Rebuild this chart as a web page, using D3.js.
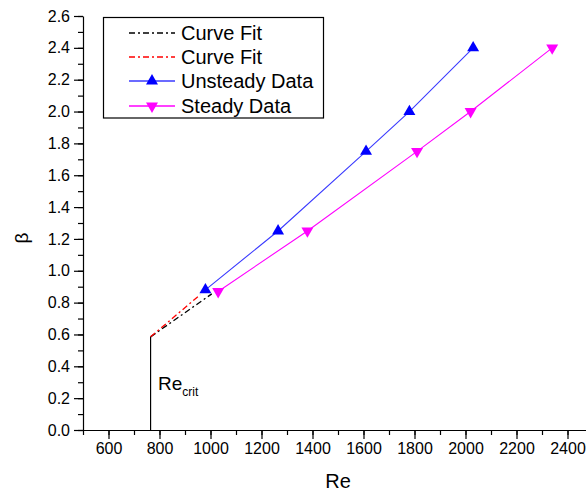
<!DOCTYPE html>
<html>
<head>
<meta charset="utf-8">
<script src="https://cdn.jsdelivr.net/npm/d3@7"></script>
<style>
  body { margin: 0; background: #fff; }
  svg { display: block; font-family: Arial, "Liberation Sans", sans-serif; }
</style>
</head>
<body>
<div id="chart"></div>
<script>
// data
const unsteadyRe = [980, 1265, 1610, 1780, 2030];
const unsteadyBeta = [0.88, 1.25, 1.75, 2.0, 2.4];
const steadyRe = [1030, 1380, 1810, 2020, 2340];
const steadyBeta = [0.87, 1.25, 1.75, 2.0, 2.4];
const fitBlackRe = [765, 1005];
const fitBlackBeta = [0.585, 0.855];
const fitRedRe = [765, 960];
const fitRedBeta = [0.585, 0.85];
const reCrit = 765;
const reCritBeta = 0.585;
const xTicks = [600, 800, 1000, 1200, 1400, 1600, 1800, 2000, 2200, 2400];
const yTicks = [0, 0.2, 0.4, 0.6, 0.8, 1.0, 1.2, 1.4, 1.6, 1.8, 2.0, 2.2, 2.4, 2.6];

const width = 586, height = 494;

const svg = d3.select('#chart').append('svg')
    .attr('width', width)
    .attr('height', height);

const x = d3.scaleLinear().domain([500, 2500]).range([83, 593]);
const y = d3.scaleLinear().domain([0, 2.6]).range([430, 16]);

const zip = (a, b) => a.map((v, i) => [v, b[i]]);

// minor ticks
svg.append('g')
    .attr('transform', `translate(0,${y(0)})`)
    .call(d3.axisBottom(x).tickValues(d3.range(500, 2501, 100)).tickSize(5).tickFormat(''))
    .call(g => g.select('.domain').remove());
svg.append('g')
    .attr('transform', `translate(${x(500)},0)`)
    .call(d3.axisLeft(y).tickValues(d3.range(0, 27).map(d => d / 10)).tickSize(5).tickFormat(''))
    .call(g => g.select('.domain').remove());

// major axes
svg.append('g')
    .attr('transform', `translate(0,${y(0)})`)
    .call(d3.axisBottom(x).tickValues(xTicks).tickSize(9).tickSizeOuter(0).tickPadding(4).tickFormat(d3.format('d')));
svg.append('g')
    .attr('transform', `translate(${x(500)},0)`)
    .call(d3.axisLeft(y).tickValues(yTicks).tickSize(9).tickSizeOuter(0).tickPadding(4).tickFormat(d3.format('.1f')));

svg.selectAll('.tick text')
    .attr('font-size', 16)
    .attr('font-family', 'Arial, "Liberation Sans", sans-serif')
    .attr('fill', '#000');
svg.selectAll('.domain, .tick line').attr('stroke', '#000').attr('stroke-width', 1.2);

// axis titles
svg.append('text')
    .attr('x', 338).attr('y', 488)
    .attr('text-anchor', 'middle')
    .attr('font-size', 20)
    .text('Re');
svg.append('text')
    .attr('transform', 'translate(28,238) rotate(-90)')
    .attr('text-anchor', 'middle')
    .attr('font-size', 19)
    .text('β');

// Re_crit marker
svg.append('line')
    .attr('x1', x(reCrit)).attr('x2', x(reCrit))
    .attr('y1', y(0)).attr('y2', y(reCritBeta))
    .attr('stroke', '#000').attr('stroke-width', 1.2);
const rc = svg.append('text')
    .attr('x', 158).attr('y', 390)
    .attr('font-size', 19)
    .text('Re');
rc.append('tspan').attr('font-size', 12).attr('dy', 6).text('crit');

const line = d3.line().x(d => x(d[0])).y(d => y(d[1]));

// curve fits
svg.append('path')
    .datum(zip(fitBlackRe, fitBlackBeta))
    .attr('d', line)
    .attr('fill', 'none').attr('stroke', '#000').attr('stroke-width', 1.3)
    .attr('stroke-dasharray', '6,3,2,3');
svg.append('path')
    .datum(zip(fitRedRe, fitRedBeta))
    .attr('d', line)
    .attr('fill', 'none').attr('stroke', '#ff0000').attr('stroke-width', 1.3)
    .attr('stroke-dasharray', '6,3,2,3');

// data series
const series = [
    { re: unsteadyRe, beta: unsteadyBeta, color: '#0000ff', line: '#3a3aff', rot: 0 },
    { re: steadyRe, beta: steadyBeta, color: '#ff00ff', line: '#ff00ff', rot: 180 }
];
const tri = d3.symbol().type(d3.symbolTriangle).size(62);

series.forEach(s => {
    const pts = zip(s.re, s.beta);
    svg.append('path')
        .datum(pts)
        .attr('d', line)
        .attr('fill', 'none').attr('stroke', s.line).attr('stroke-width', 1.1);
    svg.selectAll(null)
        .data(pts)
        .enter()
        .append('path')
        .attr('d', tri)
        .attr('fill', s.color)
        .attr('transform', d => `translate(${x(d[0])},${y(d[1])}) rotate(${s.rot})`);
});

// legend
const legend = svg.append('g');
legend.append('rect')
    .attr('x', 103.5).attr('y', 17.5)
    .attr('width', 220).attr('height', 100.5)
    .attr('fill', '#fff').attr('stroke', '#000').attr('stroke-width', 1.2);

const legendItems = [
    { label: 'Curve Fit', color: '#000', dash: '6,3,2,3', marker: null },
    { label: 'Curve Fit', color: '#ff0000', dash: '6,3,2,3', marker: null },
    { label: 'Unsteady Data', color: '#3a3aff', dash: null, marker: 0, fill: '#0000ff' },
    { label: 'Steady Data', color: '#ff00ff', dash: null, marker: 180, fill: '#ff00ff' }
];
const legendY = [33, 57, 81, 106];

legendItems.forEach((it, i) => {
    const ly = legendY[i];
    legend.append('line')
        .attr('x1', 129).attr('x2', 175)
        .attr('y1', ly).attr('y2', ly)
        .attr('stroke', it.color).attr('stroke-width', 1.3)
        .attr('stroke-dasharray', it.dash);
    if (it.marker !== null) {
        legend.append('path')
            .attr('d', tri)
            .attr('fill', it.fill)
            .attr('transform', `translate(152,${ly}) rotate(${it.marker})`);
    }
    legend.append('text')
        .attr('x', 181).attr('y', ly + 7)
        .attr('font-size', 20)
        .text(it.label);
});
</script>
</body>
</html>
